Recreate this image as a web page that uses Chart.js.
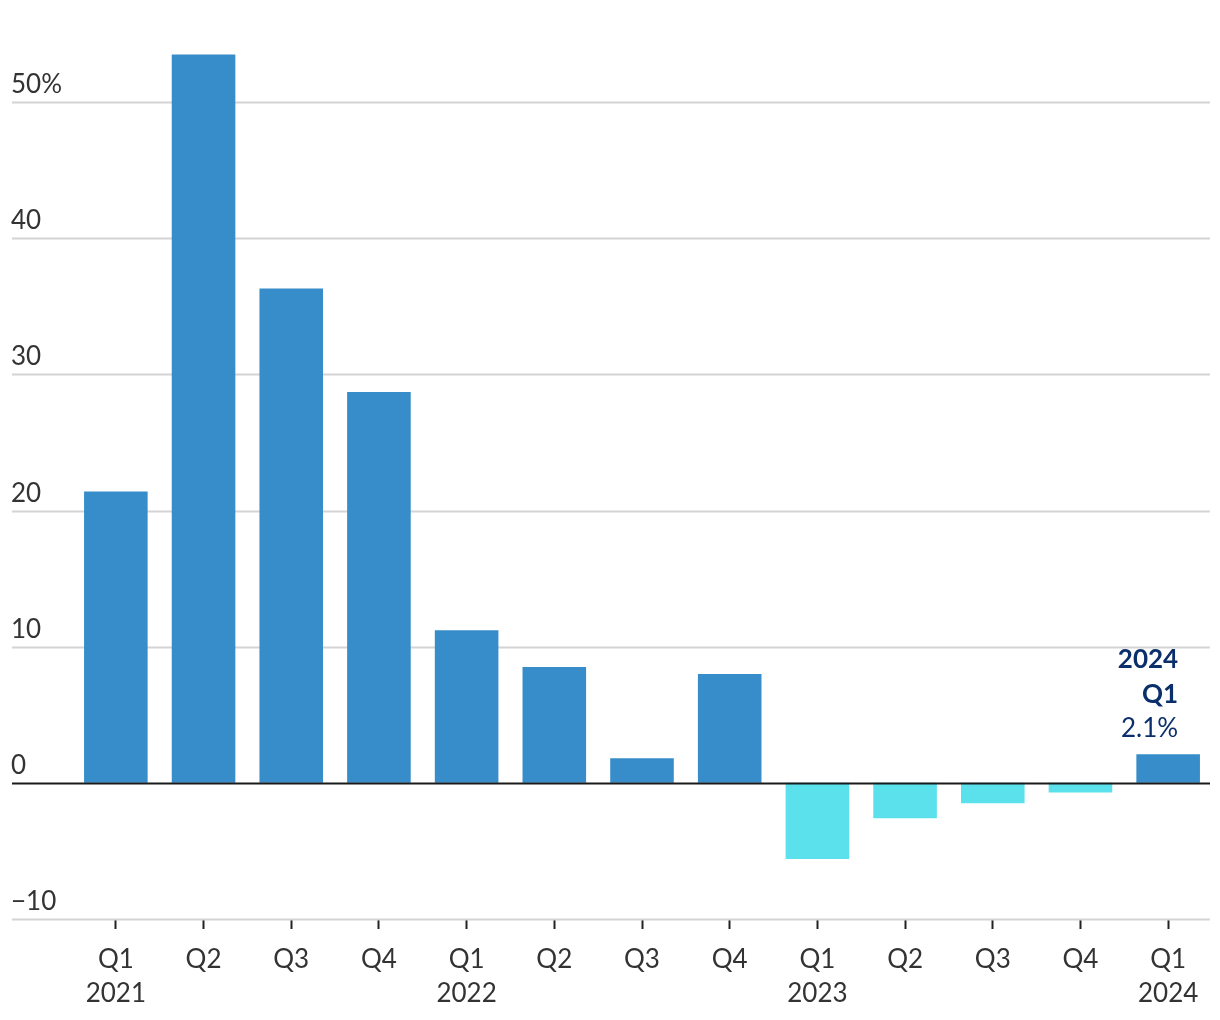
<!DOCTYPE html>
<html>
<head>
<meta charset="utf-8">
<script src="https://cdn.jsdelivr.net/npm/chart.js@4"></script>
<style>
  html, body { margin: 0; padding: 0; background: #fff; }
  #wrap { width: 1220px; height: 1020px; }
</style>
</head>
<body>
<div id="wrap"><canvas id="chart" width="1220" height="1020"></canvas></div>
<script>
// Quarterly change, %
const quarters = ['Q1', 'Q2', 'Q3', 'Q4', 'Q1', 'Q2', 'Q3', 'Q4', 'Q1', 'Q2', 'Q3', 'Q4', 'Q1'];
const years = ['2021', '', '', '', '2022', '', '', '', '2023', '', '', '', '2024'];
const values = [21.4, 53.5, 36.3, 28.7, 11.2, 8.5, 1.8, 8.0, -5.6, -2.6, -1.5, -0.7, 2.1];

const yTicks = [-10, 0, 10, 20, 30, 40, 50];
const yTickLabels = ['\u221210', '0', '10', '20', '30', '40', '50%'];

const calloutLines = ['2024', 'Q1', '2.1%'];

const FONT = 'Lato, "Open Sans", sans-serif';
const POS_COLOR = '#368dc9';
const NEG_COLOR = '#5ae1eb';

const labels = quarters.map((q, i) => years[i] ? [q, years[i]] : [q]);

// Gridlines and y labels drawn across the full width, left of the bars
const gridPlugin = {
  id: 'gridPlugin',
  beforeDatasetsDraw(chart) {
    const ctx = chart.ctx;
    const y = chart.scales.y;
    ctx.save();
    ctx.strokeStyle = '#d4d4d4';
    ctx.lineWidth = 2;
    yTicks.forEach(v => {
      if (v === 0) return;
      const py = Math.round(y.getPixelForValue(v)) + 0.5;
      ctx.beginPath();
      ctx.moveTo(12, py);
      ctx.lineTo(1210, py);
      ctx.stroke();
    });
    ctx.fillStyle = '#333';
    ctx.font = '26px ' + FONT;
    ctx.textAlign = 'left';
    ctx.textBaseline = 'alphabetic';
    yTicks.forEach((v, i) => {
      const py = y.getPixelForValue(v);
      ctx.fillText(yTickLabels[i], 11, py - 9);
    });
    ctx.restore();
  },
  afterDatasetsDraw(chart) {
    const ctx = chart.ctx;
    const y = chart.scales.y;
    const py = Math.round(y.getPixelForValue(0)) + 0.5;
    ctx.save();
    ctx.strokeStyle = '#1a1a1a';
    ctx.lineWidth = 2;
    ctx.beginPath();
    ctx.moveTo(12, py);
    ctx.lineTo(1210, py);
    ctx.stroke();

    // callout over the latest bar
    const meta = chart.getDatasetMeta(0);
    const bar = meta.data[meta.data.length - 1];
    const rx = bar.x + 10;
    ctx.fillStyle = '#0b2f6b';
    ctx.textAlign = 'right';
    ctx.font = 'bold 26px ' + FONT;
    ctx.fillText(calloutLines[0], rx, bar.y - 86);
    ctx.fillText(calloutLines[1], rx, bar.y - 51);
    ctx.font = '26px ' + FONT;
    ctx.fillText(calloutLines[2], rx, bar.y - 17);
    ctx.restore();
  }
};

new Chart(document.getElementById('chart'), {
  type: 'bar',
  data: {
    labels: labels,
    datasets: [{
      data: values,
      backgroundColor: values.map(v => v < 0 ? NEG_COLOR : POS_COLOR),
      borderWidth: 0,
      barPercentage: 0.725,
      categoryPercentage: 1
    }]
  },
  options: {
    responsive: false,
    animation: false,
    devicePixelRatio: 1,
    layout: { padding: { left: 72, right: 8, top: 34, bottom: 0 } },
    plugins: {
      legend: { display: false },
      tooltip: { enabled: false }
    },
    scales: {
      y: {
        display: false,
        min: -10,
        max: 55
      },
      x: {
        afterFit(scale) { scale.height = 101; },
        border: { display: false },
        grid: {
          offset: false,
          drawOnChartArea: false,
          drawTicks: true,
          tickLength: 10,
          tickWidth: 2,
          tickColor: '#222'
        },
        ticks: {
          color: '#333',
          font: { family: FONT, size: 26, lineHeight: 1.3 },
          padding: 14,
          maxRotation: 0,
          autoSkip: false
        }
      }
    }
  },
  plugins: [gridPlugin]
});
</script>
</body>
</html>
